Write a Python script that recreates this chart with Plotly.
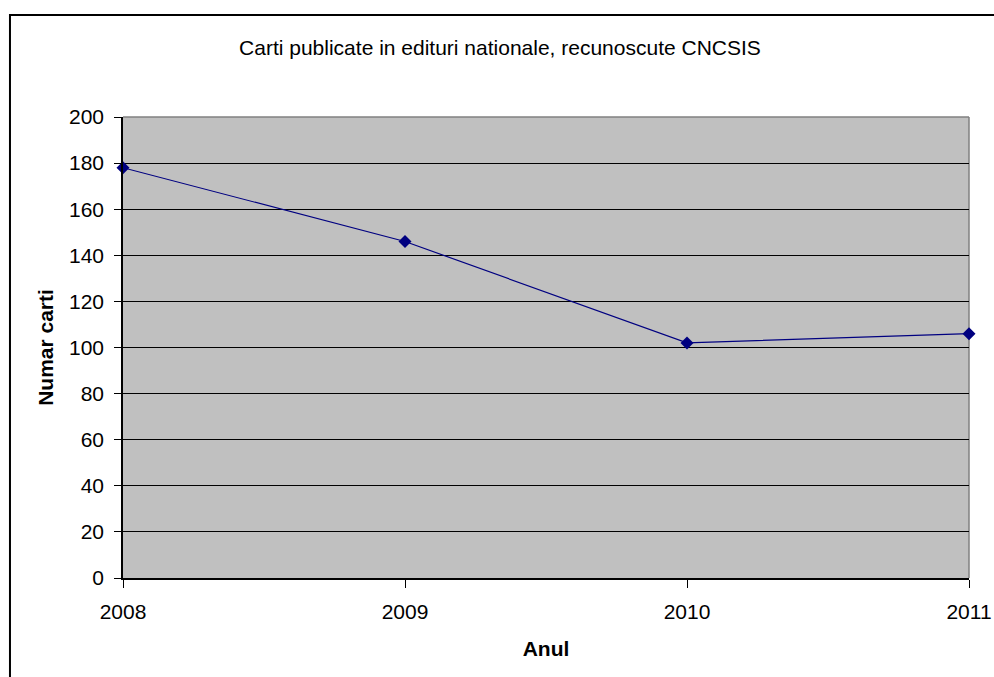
import plotly.graph_objects as go

# ─── Data ─────────────────────────────────────────────────────────────────────
years = [2008, 2009, 2010, 2011]
books = [178, 146, 102, 106]
y_ticks = list(range(0, 201, 20))

NAVY = "#000080"
PLOT_BG = "#c0c0c0"
FONT = dict(family="Liberation Sans, Arial, sans-serif", color="#000000", size=21)

fig = go.Figure()
fig.add_trace(go.Scatter(
    x=years, y=books, mode="lines+markers",
    line=dict(color=NAVY, width=1.2),
    marker=dict(symbol="diamond", size=10, color=NAVY),
    cliponaxis=False, showlegend=False,
))

fig.update_layout(
    width=994, height=677,
    paper_bgcolor="white", plot_bgcolor=PLOT_BG,
    font=FONT,
    margin=dict(l=123, r=25, t=117, b=99),
    title=dict(text="Carti publicate in edituri nationale, recunoscute CNCSIS",
               x=0.503, xanchor="center", y=0.93, yanchor="middle",
               font=dict(size=21)),
    xaxis=dict(
        range=[2008, 2011], tickvals=years, ticks="outside", ticklen=8,
        tickcolor="black", showgrid=False, showline=True, linecolor="black",
        linewidth=1.5, zeroline=False, ticklabelstandoff=6, automargin=False,
        title=dict(text="<b>Anul</b>", standoff=19, font=dict(size=21)),
    ),
    yaxis=dict(
        range=[0, 200], tickvals=y_ticks, ticks="outside", ticklen=7,
        tickcolor="black", showgrid=True, gridcolor="black", gridwidth=1,
        showline=True, linecolor="black", linewidth=1.5, zeroline=False,
        ticklabelstandoff=6, automargin=False,
        title=dict(text="<b>Numar carti</b>", standoff=10, font=dict(size=21)),
    ),
    shapes=[
        # grey plot-area border on top / right
        dict(type="line", xref="paper", yref="paper", x0=0, x1=1, y0=1, y1=1,
             line=dict(color="#808080", width=1.5), layer="above"),
        dict(type="line", xref="paper", yref="paper", x0=1, x1=1, y0=0, y1=1,
             line=dict(color="#808080", width=1.5), layer="below"),
        # outer chart frame
        dict(type="rect", xref="paper", yref="paper",
             x0=-0.1336, x1=1.3, y0=-0.4, y1=1.2213,
             line=dict(color="black", width=2), layer="below"),
    ],
)

fig.write_html("out.html", config={"displayModeBar": False},
               post_script="document.body.style.margin='0';")
